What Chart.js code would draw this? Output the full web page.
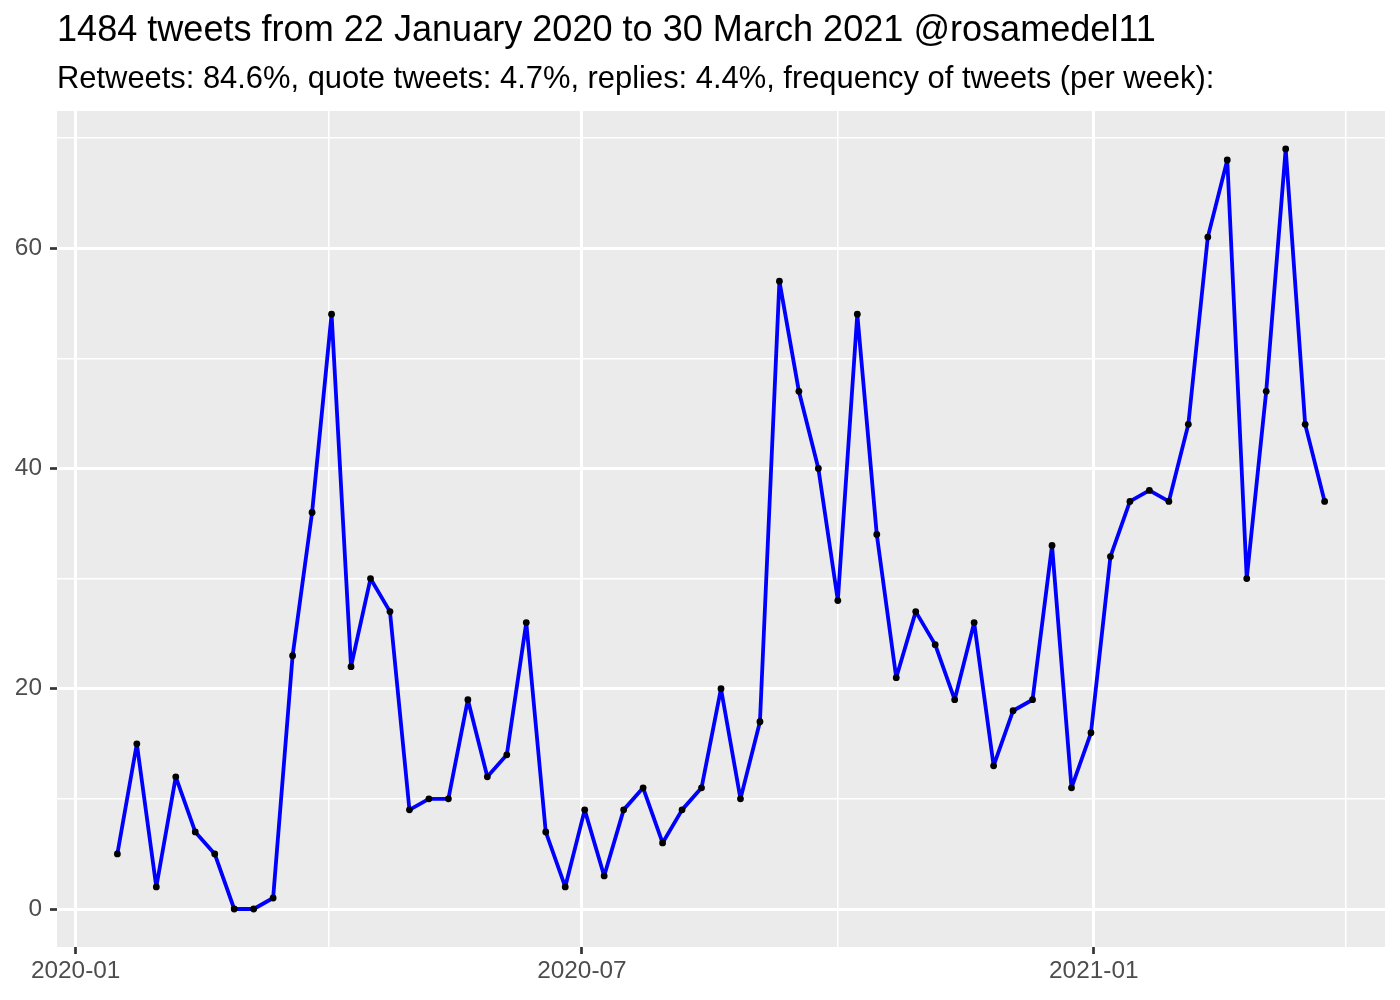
<!DOCTYPE html>
<html>
<head>
<meta charset="utf-8">
<title>Tweets per week @rosamedel11</title>
<script src="https://cdn.jsdelivr.net/npm/chart.js@4"></script>
<style>
  body { margin: 0; background: #fff; }
  #wrap { width: 1400px; height: 1000px; position: relative; }
</style>
</head>
<body>
<div id="wrap"><canvas id="tweetChart"></canvas></div>
<script>
// weekly buckets (start day of each week)
var weeks = [
    '2020-01-16', '2020-01-23', '2020-01-30', '2020-02-06', '2020-02-13', '2020-02-20', '2020-02-27',
    '2020-03-05', '2020-03-12', '2020-03-19', '2020-03-26', '2020-04-02', '2020-04-09', '2020-04-16',
    '2020-04-23', '2020-04-30', '2020-05-07', '2020-05-14', '2020-05-21', '2020-05-28', '2020-06-04',
    '2020-06-11', '2020-06-18', '2020-06-25', '2020-07-02', '2020-07-09', '2020-07-16', '2020-07-23',
    '2020-07-30', '2020-08-06', '2020-08-13', '2020-08-20', '2020-08-27', '2020-09-03', '2020-09-10',
    '2020-09-17', '2020-09-24', '2020-10-01', '2020-10-08', '2020-10-15', '2020-10-22', '2020-10-29',
    '2020-11-05', '2020-11-12', '2020-11-19', '2020-11-26', '2020-12-03', '2020-12-10', '2020-12-17',
    '2020-12-24', '2020-12-31', '2021-01-07', '2021-01-14', '2021-01-21', '2021-01-28', '2021-02-04',
    '2021-02-11', '2021-02-18', '2021-02-25', '2021-03-04', '2021-03-11', '2021-03-18', '2021-03-25'
];
var tweets = [
    5, 15, 2, 12, 7, 5, 0, 0, 1, 23, 36, 54, 22, 30, 27, 9, 10, 10, 19, 12, 14,
    26, 7, 2, 9, 3, 9, 11, 6, 9, 11, 20, 10, 17, 57, 47, 40, 28, 54, 34, 21, 27,
    24, 19, 26, 13, 18, 19, 33, 11, 16, 32, 37, 38, 37, 44, 61, 68, 30, 47, 69, 44, 37
];

var xMajorTicks = ['2020-01-01', '2020-07-01', '2021-01-01'];
var xMajorLabels = ['2020-01', '2020-07', '2021-01'];
var xNextMajor = '2021-07-01'; // only used for the last minor line
var yMajorTicks = [0, 20, 40, 60];
var yMinorTicks = [10, 30, 50, 70];

var titleText = '1484 tweets from 22 January 2020 to 30 March 2021 @rosamedel11';
var subtitleText = 'Retweets: 84.6%, quote tweets: 4.7%, replies: 4.4%, frequency of tweets (per week):';

var FONT = '"Liberation Sans", Arial, Helvetica, sans-serif';

function dayNum(s) {
    var p = s.split('-');
    return (Date.UTC(+p[0], +p[1] - 1, +p[2]) - Date.UTC(2020, 0, 1)) / 86400000;
}

var points = weeks.map(function (w, i) {
    return { x: dayNum(w), y: tweets[i] };
});

// ggplot style: minor breaks sit half way between major breaks
var xMajor = xMajorTicks.map(dayNum);
var xAll = xMajor.concat([dayNum(xNextMajor)]);
var xMinor = [];
for (var i = 0; i < xAll.length - 1; i++) xMinor.push((xAll[i] + xAll[i + 1]) / 2);

// 5% expansion like ggplot
var xs = points.map(function (p) { return p.x; });
var xLo = Math.min.apply(null, xs), xHi = Math.max.apply(null, xs);
var yLo = Math.min.apply(null, tweets), yHi = Math.max.apply(null, tweets);
var xPad = (xHi - xLo) * 0.05, yPad = (yHi - yLo) * 0.05;

var xLabelOf = {};
xMajor.forEach(function (d, i) { xLabelOf[d] = xMajorLabels[i]; });

const panelBg = {
    id: 'panelBg',
    beforeDraw: function (chart) {
        var a = chart.chartArea, ctx = chart.ctx;
        ctx.save();
        ctx.fillStyle = '#EBEBEB';
        ctx.fillRect(a.left, a.top, a.right - a.left, a.bottom - a.top);
        ctx.restore();
    }
};

var ctx = document.getElementById('tweetChart').getContext('2d');
new Chart(ctx, {
    type: 'line',
    data: {
        datasets: [{
            data: points,
            borderColor: '#0000FF',
            borderWidth: 3.8,
            borderJoinStyle: 'round',
            borderCapStyle: 'round',
            tension: 0,
            pointRadius: 3.4,
            pointHoverRadius: 3.4,
            pointBackgroundColor: '#000000',
            pointBorderWidth: 0
        }]
    },
    options: {
        responsive: true,
        maintainAspectRatio: false,
        animation: false,
        layout: { padding: { left: 0, right: 15, top: 0, bottom: 0 } },
        plugins: {
            legend: { display: false },
            tooltip: { enabled: false },
            title: {
                display: true,
                text: titleText,
                align: 'start',
                fullSize: false,
                color: '#000000',
                font: { family: FONT, size: 36.1, weight: 'normal', lineHeight: '40px' },
                padding: { top: 11, bottom: 9 }
            },
            subtitle: {
                display: true,
                text: subtitleText,
                align: 'start',
                fullSize: false,
                color: '#000000',
                font: { family: FONT, size: 30.9, weight: 'normal', lineHeight: '34px' },
                padding: { top: 2, bottom: 15 }
            }
        },
        scales: {
            x: {
                type: 'linear',
                min: xLo - xPad,
                max: xHi + xPad,
                afterBuildTicks: function (scale) {
                    scale.ticks = xMajor.concat(xMinor).sort(function (a, b) { return a - b; })
                        .map(function (v) { return { value: v }; });
                },
                afterFit: function (scale) { scale.height = 53; },
                border: { display: false },
                grid: {
                    color: '#FFFFFF',
                    lineWidth: function (c) { return xLabelOf[c.tick.value] ? 3 : 1.5; },
                    drawTicks: true,
                    tickLength: 7,
                    tickWidth: 2.7,
                    tickColor: function (c) { return xLabelOf[c.tick.value] ? '#333333' : 'rgba(0,0,0,0)'; }
                },
                ticks: {
                    autoSkip: false,
                    maxRotation: 0,
                    padding: 3,
                    color: '#4D4D4D',
                    font: { family: FONT, size: 24.4 },
                    callback: function (v) { return xLabelOf[v] || ''; }
                }
            },
            y: {
                type: 'linear',
                min: yLo - yPad,
                max: yHi + yPad,
                afterBuildTicks: function (scale) {
                    scale.ticks = yMajorTicks.concat(yMinorTicks).sort(function (a, b) { return a - b; })
                        .map(function (v) { return { value: v }; });
                },
                afterFit: function (scale) { scale.width = 57; },
                border: { display: false },
                grid: {
                    color: '#FFFFFF',
                    lineWidth: function (c) { return yMajorTicks.indexOf(c.tick.value) >= 0 ? 3 : 1.5; },
                    drawTicks: true,
                    tickLength: 7,
                    tickWidth: 2.7,
                    tickColor: function (c) { return yMajorTicks.indexOf(c.tick.value) >= 0 ? '#333333' : 'rgba(0,0,0,0)'; }
                },
                ticks: {
                    autoSkip: false,
                    padding: 8,
                    color: '#4D4D4D',
                    font: { family: FONT, size: 24.4 },
                    callback: function (v) { return yMajorTicks.indexOf(v) >= 0 ? String(v) : ''; }
                }
            }
        }
    },
    plugins: [panelBg]
});
</script>
</body>
</html>
